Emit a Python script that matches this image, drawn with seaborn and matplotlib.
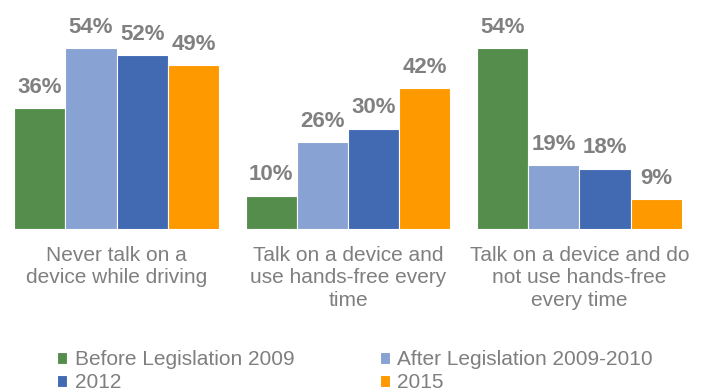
import matplotlib
matplotlib.use("Agg")
import matplotlib.pyplot as plt
import seaborn as sns
import pandas as pd

categories = ["Never talk on a\ndevice while driving",
              "Talk on a device and\nuse hands-free every\ntime",
              "Talk on a device and do\nnot use hands-free\nevery time"]
series = ["Before Legislation 2009", "After Legislation 2009-2010", "2012", "2015"]
before_2009 = [36, 10, 54]
after_2009_2010 = [54, 26, 19]
y2012 = [52, 30, 18]
y2015 = [49, 42, 9]
colors = ["#558E4C", "#87A2D3", "#416AB3", "#FF9900"]

sns.set_theme(style="white")
plt.rcParams['font.family'] = ['Liberation Sans', 'DejaVu Sans']

rows = []
for s, vals in zip(series, [before_2009, after_2009_2010, y2012, y2015]):
    for c, v in zip(categories, vals):
        rows.append({"category": c, "series": s, "value": v})
df = pd.DataFrame(rows)

W, H = 709, 390
fig = plt.figure(figsize=(W / 100, H / 100), dpi=100)
ax = fig.add_axes([1 / W, (H - 229) / H, 694 / W, 229 / H])

sns.barplot(data=df, x="category", y="value", hue="series", order=categories,
            hue_order=series, palette=colors, width=0.886, gap=0,
            edgecolor="white", linewidth=0.8, saturation=1, ax=ax, legend=True)

ax.set_ylim(0, 68.4)
ax.set_xlim(-0.5, 2.5)
for sp in ax.spines.values():
    sp.set_visible(False)
ax.set_yticks([])
ax.set_xlabel("")
ax.set_ylabel("")
ax.tick_params(axis="x", length=0, pad=12, labelsize=15, labelcolor="#7F7F7F")
for lab in ax.get_xticklabels():
    lab.set_linespacing(1.25)

for cont in ax.containers:
    for bar in cont:
        h = bar.get_height()
        ax.annotate(f"{h:.0f}%", (bar.get_x() + bar.get_width() / 2, h),
                    xytext=(0, 11), textcoords="offset points",
                    ha="center", va="baseline", fontsize=16,
                    fontweight="bold", color="#808080")

handles, labels = ax.get_legend_handles_labels()
ax.legend_.remove()
order = [0, 2, 1, 3]  # row-wise fill: Before, After / 2012, 2015
fig.legend([handles[i] for i in order], [labels[i] for i in order],
           loc="upper left", bbox_to_anchor=(57 / W, 1 - 350 / H),
           ncol=2, frameon=False, fontsize=15, labelcolor="#7F7F7F",
           handlelength=0.5, handleheight=0.5, handletextpad=0.35,
           columnspacing=4.1, labelspacing=0.2, borderpad=0, borderaxespad=0)

fig.savefig("out.png", dpi=100)
